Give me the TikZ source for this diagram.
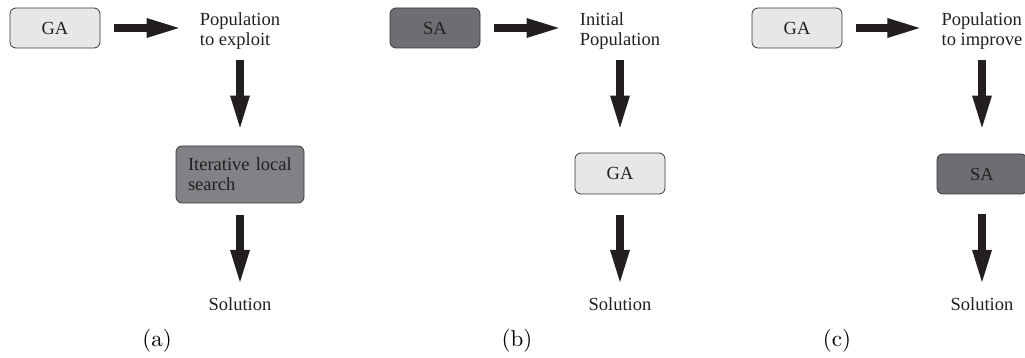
\documentclass[tikz,border=0pt]{standalone}
\usepackage{fontspec}
\usepackage{tikz}
\usetikzlibrary{arrows.meta}
\newfontfamily\tmsfont{Liberation Serif}
\definecolor{lightbox}{RGB}{230,231,232}
\definecolor{darkbox}{RGB}{109,110,113}
\definecolor{midbox}{RGB}{128,130,133}
\definecolor{boxline}{RGB}{55,55,55}
\definecolor{arrowcol}{RGB}{35,31,32}

\begin{document}
\begin{tikzpicture}[x=1pt,y=-1pt]
  \tikzstyle{every node}=[font=\tmsfont\fontsize{18.5}{20}\selectfont,text=arrowcol]
  \tikzstyle{box}=[draw=boxline,line width=0.8pt,rounded corners=6pt,
    minimum width=90pt,minimum height=40pt,inner sep=0pt]
  \tikzstyle{light}=[box,fill=lightbox]
  \tikzstyle{dark}=[box,fill=darkbox]
  \tikzstyle{txt}=[inner sep=0pt,align=left]
  \tikzstyle{flow}=[draw=arrowcol,line width=8pt,-{Triangle[length=36pt,width=17pt]}]
  \tikzstyle{every edge}=[flow]
  \tikzstyle{sublabel}=[font=\normalfont\fontsize{10}{12}\selectfont,scale=2.3,
    anchor=base,inner sep=0pt,text=black]
  \useasboundingbox (0,0) rectangle (1025,358);

  % (a)
  \node[light] (gaA) at (55,28) {GA};
  \node[txt] (popA) at (240,31.5) {Population\\to exploit};
  \node[box,fill=midbox,minimum width=128pt,minimum height=57pt,
    text width=104pt] (ilsA) at (240,174.5) {Iterative local\\search};
  \node[txt,anchor=base] (solA) at (240,310) {Solution};
  \node[sublabel] (labA) at (157,346) {(a)};

  % (b)
  \node[dark] (saB) at (435,28) {SA};
  \node[txt] (popB) at (620,31.5) {Initial\\Population};
  \node[light,minimum height=41pt] (gaB) at (620,173.5) {GA};
  \node[txt,anchor=base] (solB) at (620,310) {Solution};
  \node[sublabel] (labB) at (517,346) {(b)};

  % (c)
  \node[light] (gaC) at (797,28) {GA};
  \node[txt] (popC) at (982,31.5) {Population\\to improve};
  \node[dark] (saC) at (982,174) {SA};
  \node[txt,anchor=base] (solC) at (982,310) {Solution};
  \node[sublabel] (labC) at (837,346) {(c)};

  \path
  (gaA.east) edge[shorten <=14pt,shorten >=17pt] (gaA.east -| popA.west)
  (popA) edge[shorten <=10pt,shorten >=14pt] (ilsA)
  (ilsA) edge[shorten <=12pt,shorten >=11pt] (solA)
  (saB.east) edge[shorten <=14pt,shorten >=17pt] (saB.east -| popB.west)
  (popB) edge[shorten <=10pt,shorten >=21pt] (gaB)
  (gaB) edge[shorten <=21pt,shorten >=11pt] (solB)
  (gaC.east) edge[shorten <=14pt,shorten >=18pt] (gaC.east -| popC.west)
  (popC) edge[shorten <=10pt,shorten >=22pt] (saC)
  (saC) edge[shorten <=20pt,shorten >=11pt] (solC);
\end{tikzpicture}
\end{document}
